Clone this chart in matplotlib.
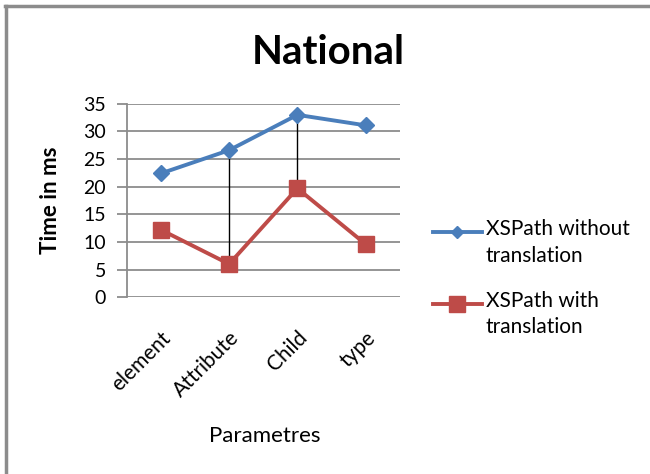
import matplotlib
matplotlib.use("Agg")
import matplotlib.pyplot as plt
from matplotlib.lines import Line2D

# data
categories = ["element", "Attribute", "Child", "type"]
without_translation = [22.4, 26.6, 33.0, 31.1]
with_translation = [12.2, 6.0, 19.7, 9.6]
drop_line_idx = [1, 2]   # black connectors between the two series
series_labels = ["XSPath without\ntranslation", "XSPath with\ntranslation"]

BLUE = "#4a7ebb"
RED = "#be4b48"
GRID = "#8c8c8c"

plt.rcParams["font.family"] = ["Lato", "DejaVu Sans"]

fig = plt.figure(figsize=(6.5, 4.74), dpi=100)
ax = fig.add_axes([0.195, 0.373, 0.42, 0.408])

x = list(range(len(categories)))
for i in drop_line_idx:
    ax.plot([x[i], x[i]], [without_translation[i], with_translation[i]],
            color="black", linewidth=1, zorder=2)

ax.plot(x, without_translation, color=BLUE, linewidth=2.8, marker="D",
        markersize=8, zorder=3)
ax.plot(x, with_translation, color=RED, linewidth=2.8, marker="s",
        markersize=12, zorder=3)

ax.set_xlim(-0.5, 3.5)
ax.set_ylim(0, 35)
ax.set_yticks(range(0, 36, 5))
ax.yaxis.grid(True, color=GRID, linewidth=1.3)
ax.set_axisbelow(True)
ax.set_xticks(x)
ax.set_xticklabels(categories, rotation=45, ha="right", va="top",
                   rotation_mode="anchor", fontsize=15)
ax.tick_params(axis="x", length=0, pad=22)
ax.tick_params(axis="y", length=7, color=GRID, width=1.3, labelsize=14, pad=8)
for s in ["top", "right", "bottom"]:
    ax.spines[s].set_visible(False)
ax.spines["left"].set_color(GRID)
ax.spines["left"].set_linewidth(1.3)

ax.set_ylabel("Time in ms", fontsize=16, fontweight="bold")
ax.yaxis.set_label_coords(-0.24, 0.5)
ax.set_xlabel("Parametres", fontsize=16)
ax.xaxis.set_label_coords(0.505, -0.665)
fig.text(0.505, 0.89, "National", fontsize=29, fontweight="bold",
         ha="center", va="center")

# legend drawn by hand so the key sits on the first text line, as in Excel
legend_styles = [
    dict(color=BLUE, marker="D", markersize=6),
    dict(color=RED, marker="s", markersize=11),
]
legend_tops = [0.51, 0.359]
for label, style, y0 in zip(series_labels, legend_styles, legend_tops):
    fig.add_artist(Line2D([0.666, 0.741], [y0, y0], transform=fig.transFigure,
                          color=style["color"], linewidth=2.8))
    fig.add_artist(Line2D([0.7035], [y0], transform=fig.transFigure,
                          linestyle="none", **style))
    fig.text(0.747, y0 + 0.027, label, fontsize=15, ha="left", va="top",
             linespacing=1.4)

# grey frame around the chart (top and left visible)
fig.add_artist(Line2D([0.008, 1.0], [0.988, 0.988], color=GRID, linewidth=2.5,
                      transform=fig.transFigure))
fig.add_artist(Line2D([0.009, 0.009], [0.0, 0.988], color=GRID, linewidth=2.5,
                      transform=fig.transFigure))

fig.savefig("out.png", dpi=100)
